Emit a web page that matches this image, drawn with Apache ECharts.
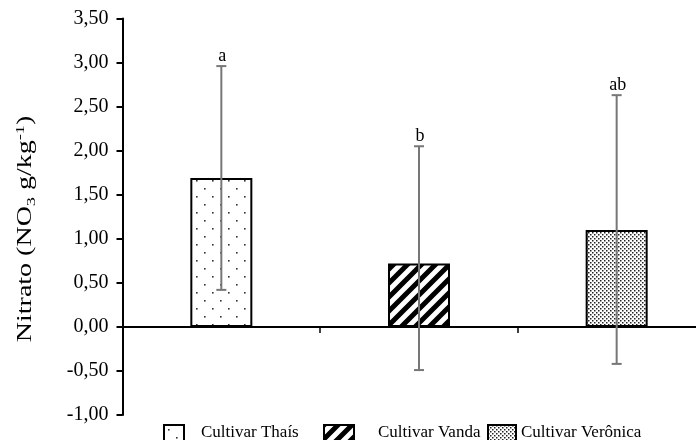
<!DOCTYPE html>
<html>
<head>
<meta charset="utf-8">
<script src="https://cdn.jsdelivr.net/npm/echarts@6/dist/echarts.min.js"></script>
<style>
  html, body { margin: 0; padding: 0; background: #fff; }
  #chart { width: 696px; height: 440px; }
</style>
</head>
<body>
<div id="chart"></div>
<script>
// Cultivars and nitrate means with error-bar limits (NO3 g/kg)
const cultivars = ['Cultivar Thaís', 'Cultivar Vanda', 'Cultivar Verônica'];
const means = [1.69, 0.72, 1.10];
const errLow = [0.42, -0.49, -0.42];
const errHigh = [2.96, 2.05, 2.63];
const letters = ['a', 'b', 'ab'];
const yTicks = { min: -1, max: 3.5, step: 0.5 };

const FONT = "'Liberation Serif', 'Times New Roman', serif";

// Fill patterns drawn on small canvases
function makeTile(size, draw) {
  const c = document.createElement('canvas');
  c.width = size; c.height = size;
  const ctx = c.getContext('2d');
  ctx.fillStyle = '#fff';
  ctx.fillRect(0, 0, size, size);
  draw(ctx, size);
  return { image: c, repeat: 'repeat' };
}
const sparseDots = makeTile(16, (ctx) => {
  ctx.fillStyle = '#333';
  ctx.fillRect(4, 4, 1.6, 1.6);
  ctx.fillRect(12, 12, 1.6, 1.6);
});
const stripes = makeTile(14, (ctx, s) => {
  ctx.strokeStyle = '#000';
  ctx.lineWidth = 5;
  ctx.beginPath();
  ctx.moveTo(-s, s); ctx.lineTo(s, -s);
  ctx.moveTo(0, s); ctx.lineTo(s, 0);
  ctx.moveTo(0, 2 * s); ctx.lineTo(2 * s, 0);
  ctx.stroke();
});
const denseDots = makeTile(4, (ctx) => {
  ctx.fillStyle = '#222';
  ctx.fillRect(0, 0, 1.5, 1.5);
  ctx.fillRect(2, 2, 1.5, 1.5);
});
const fills = [sparseDots, stripes, denseDots];

const barSeries = cultivars.map((name, i) => ({
  name: name,
  type: 'bar',
  barWidth: 62,
  barGap: '-100%',
  data: means.map((v, j) => (j === i ? v : '-')),
  itemStyle: { color: fills[i], borderColor: '#000', borderWidth: 2 },
  emphasis: { disabled: true },
  z: 2
}));

const errData = cultivars.map((c, i) => [i, errLow[i], errHigh[i], letters[i]]);

const errSeries = {
  type: 'custom',
  name: 'erro',
  z: 5,
  data: errData,
  encode: { x: 0, y: [1, 2] },
  renderItem: function (params, api) {
    const x = api.value(0);
    const lo = api.coord([x, api.value(1)]);
    const hi = api.coord([x, api.value(2)]);
    const cap = 5;
    const st = { stroke: '#777', lineWidth: 2 };
    return {
      type: 'group',
      children: [
        { type: 'line', shape: { x1: lo[0], y1: lo[1], x2: hi[0], y2: hi[1] }, style: st },
        { type: 'line', shape: { x1: lo[0] - cap, y1: lo[1], x2: lo[0] + cap, y2: lo[1] }, style: st },
        { type: 'line', shape: { x1: hi[0] - cap, y1: hi[1], x2: hi[0] + cap, y2: hi[1] }, style: st },
        {
          type: 'text',
          x: hi[0] + 1, y: hi[1] - 1,
          style: {
            text: api.value(3),
            font: '18px ' + FONT,
            fill: '#000',
            align: 'center',
            verticalAlign: 'bottom'
          }
        }
      ]
    };
  }
};

function legendFor(i, left, width, pad) {
  return {
    data: [cultivars[i]],
    left: left,
    top: 419,
    icon: 'rect',
    itemWidth: width,
    itemHeight: 16,
    selectedMode: false,
    itemStyle: { borderColor: '#000', borderWidth: 2 },
    textStyle: { fontFamily: FONT, fontSize: 17, color: '#000', padding: [0, 0, 0, pad] }
  };
}

const chart = echarts.init(document.getElementById('chart'), null, { renderer: 'canvas' });
chart.setOption({
  animation: false,
  backgroundColor: '#fff',
  grid: { left: 122.5, width: 593, top: 18.5, height: 396.5, outerBoundsMode: 'none' },
  legend: [
    legendFor(0, 158, 20, 12),
    legendFor(1, 318, 30, 19),
    legendFor(2, 482, 28, 0)
  ],
  xAxis: {
    type: 'category',
    data: cultivars,
    axisLine: { onZero: true, lineStyle: { color: '#000', width: 2 } },
    axisTick: { show: true, length: 6, lineStyle: { color: '#000', width: 1.5 } },
    axisLabel: { show: false },
    splitLine: { show: false }
  },
  yAxis: {
    type: 'value',
    min: yTicks.min,
    max: yTicks.max,
    interval: yTicks.step,
    axisLine: { show: true, onZero: false, lineStyle: { color: '#000', width: 2 } },
    axisTick: { show: true, length: 6, lineStyle: { color: '#000', width: 2 } },
    axisLabel: {
      margin: 14,
      fontFamily: FONT,
      fontSize: 20,
      color: '#000',
      formatter: (v) => v.toFixed(2).replace('.', ',')
    },
    splitLine: { show: false }
  },
  graphic: [{
    type: 'text',
    x: 26,
    y: 229,
    rotation: Math.PI / 2,
    scaleX: 1.4,
    style: {
      text: 'Nitrato (NO{sub|3} g/kg{sup|-1})',
      font: '20px ' + FONT,
      fill: '#000',
      align: 'center',
      verticalAlign: 'middle',
      lineHeight: 24,
      rich: {
        sub: { fontFamily: FONT, fontSize: 13, lineHeight: 12, verticalAlign: 'bottom', fill: '#000' },
        sup: { fontFamily: FONT, fontSize: 13, lineHeight: 12, verticalAlign: 'top', fill: '#000' }
      }
    }
  }],
  series: barSeries.concat([errSeries])
});
</script>
</body>
</html>
